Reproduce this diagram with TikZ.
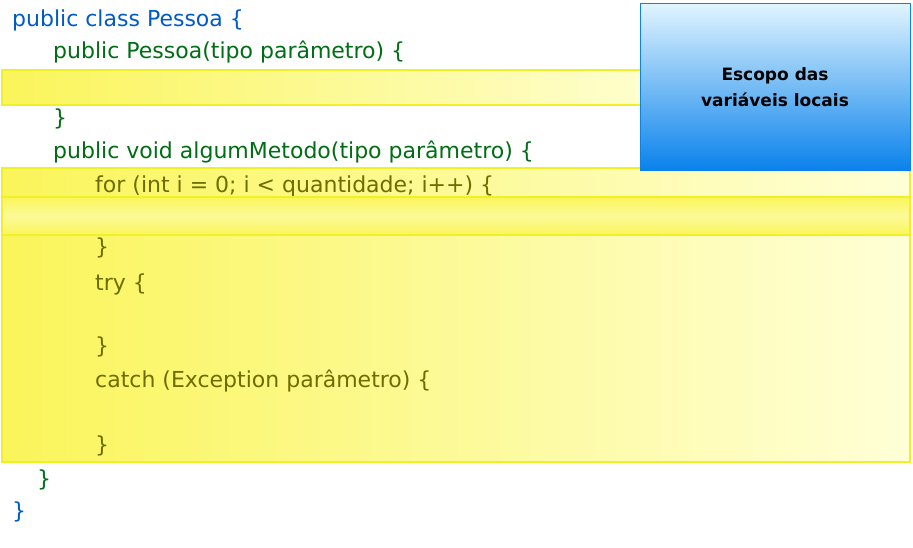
\documentclass[tikz,border=0pt]{standalone}
\usepackage{fontspec}
\setmainfont{DejaVu Sans}
\definecolor{cblue}{RGB}{0,90,200}
\definecolor{cgreen}{RGB}{0,110,20}
\definecolor{colive}{RGB}{110,110,0}
\definecolor{ydark}{RGB}{250,245,90}
\definecolor{ylight}{RGB}{255,255,215}
\definecolor{yedge}{RGB}{240,240,40}
\definecolor{bdark}{RGB}{10,130,235}
\definecolor{blight}{RGB}{225,245,255}
\tikzset{
  code/.style={anchor=west, inner sep=0pt, font=\fontsize{22pt}{26pt}\selectfont},
  band/.style={draw=yedge, line width=1.2pt},
}
\begin{document}
\begin{tikzpicture}[x=1pt,y=-1pt]
\useasboundingbox (0,0) rectangle (913,547);
\fill[white] (0,0) rectangle (913,547);
% big yellow area
\path[band, left color=ydark, right color=ylight] (2,168) rectangle (910,462);
\node[code, text=colive] (for) at (95,186) {for (int i = 0; i < quantidade; i++) \{};
\path[band, top color=ydark, bottom color=ydark, middle color=ylight!50!ydark] (2,197) rectangle (910,235);
\node[code, text=colive] (c1) at (95,248) {\}};
\node[code, text=colive] (try) at (95,284) {try \{};
\node[code, text=colive] (c2) at (95,347) {\}};
\node[code, text=colive] (catch) at (95,381) {catch (Exception parâmetro) \{};
\node[code, text=colive] (c3) at (95,446) {\}};
% band 1
\path[band, left color=ydark, right color=ylight] (2,70) rectangle (700,105);
% code outside
\node[code, text=cblue] (cls) at (12,20) {public class Pessoa \{};
\node[code, text=cgreen] (ctor) at (53,52) {public Pessoa(tipo parâmetro) \{};
\node[code, text=cgreen] (c4) at (53,119) {\}};
\node[code, text=cgreen] (meth) at (53,152) {public void algumMetodo(tipo parâmetro) \{};
\node[code, text=cgreen] (c5) at (37,480) {\}};
\node[code, text=cblue] (c6) at (12,512) {\}};
% blue box
\path[draw=bdark, line width=1pt, top color=blight, bottom color=bdark] (640,3) rectangle (910,170);
\node[font=\bfseries\fontsize{17pt}{26pt}\selectfont, align=center] (scope) at (775,87) {Escopo das\\variáveis locais};
\end{tikzpicture}
\end{document}
